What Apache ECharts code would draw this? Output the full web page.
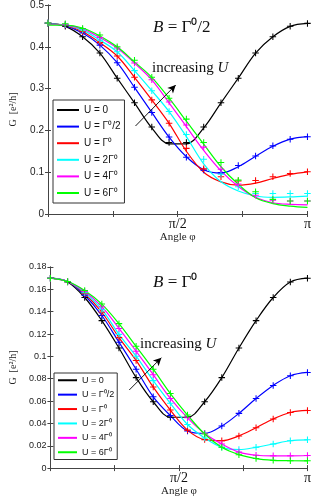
<!DOCTYPE html>
<html><head><meta charset="utf-8">
<script src="https://cdn.jsdelivr.net/npm/echarts@6/dist/echarts.min.js"></script>
<style>html,body{margin:0;padding:0;background:#fff}#c{width:314px;height:498px}</style>
</head><body><div id="c"></div>
<script>
// Angle in degrees (0 .. 180 = pi)
const angles = [0,12,24,36,48,60,72,84,96,108,120,132,144,156,168,180];
const names = ['U = 0','U = Γ⁰/2','U = Γ⁰','U = 2Γ⁰','U = 4Γ⁰','U = 6Γ⁰'];
const colors = ['#000000','#0000ff','#ff0000','#00ffff','#ff00ff','#00ff00'];
const xTickLabels = {90:'π/2', 180:'π'};

// ---- Top panel: B = Γ0/2 (lines = theory, markers = numerics)
const topLineU0   = [0.456,0.449,0.424,0.385,0.325,0.266,0.206,0.168,0.168,0.206,0.266,0.325,0.385,0.424,0.449,0.456];
const topLineU05  = [0.455,0.450,0.433,0.404,0.362,0.303,0.243,0.184,0.137,0.106,0.098,0.113,0.138,0.162,0.179,0.185];
const topLineU1   = [0.455,0.451,0.436,0.410,0.378,0.327,0.273,0.217,0.150,0.100,0.077,0.069,0.074,0.085,0.095,0.101];
const topLineU2   = [0.455,0.452,0.440,0.416,0.388,0.343,0.295,0.245,0.185,0.120,0.077,0.055,0.043,0.040,0.041,0.043];
const topLineU4   = [0.454,0.452,0.443,0.422,0.397,0.361,0.321,0.266,0.209,0.152,0.103,0.066,0.040,0.027,0.023,0.022];
const topLineU6   = [0.452,0.452,0.445,0.426,0.400,0.364,0.327,0.277,0.222,0.167,0.113,0.071,0.039,0.025,0.019,0.016];

const topMarkU0   = [0.456,0.449,0.424,0.385,0.325,0.266,0.208,0.171,0.171,0.208,0.266,0.325,0.385,0.424,0.449,0.456];
const topMarkU05  = [0.457,0.452,0.433,0.404,0.362,0.303,0.243,0.184,0.136,0.105,0.099,0.116,0.139,0.163,0.179,0.185];
const topMarkU1   = [0.457,0.452,0.436,0.410,0.378,0.327,0.273,0.217,0.157,0.108,0.089,0.079,0.080,0.089,0.097,0.101];
const topMarkU2   = [0.457,0.453,0.440,0.416,0.388,0.343,0.295,0.245,0.190,0.131,0.095,0.065,0.049,0.049,0.049,0.049];
const topMarkU4   = [0.457,0.454,0.443,0.422,0.397,0.361,0.321,0.268,0.213,0.160,0.107,0.072,0.045,0.033,0.031,0.031];
const topMarkU6   = [0.457,0.455,0.444,0.428,0.400,0.368,0.327,0.277,0.227,0.171,0.123,0.081,0.053,0.035,0.031,0.031];

// ---- Bottom panel: B = Γ0
const botU0  = [0.170,0.1666,0.1527,0.132,0.1075,0.081,0.0594,0.0455,0.0455,0.0594,0.081,0.1075,0.132,0.1527,0.1666,0.170];
const botU05 = [0.170,0.167,0.1547,0.1366,0.1127,0.0885,0.0638,0.047,0.0332,0.031,0.0376,0.049,0.0623,0.074,0.0827,0.0856];
const botU1  = [0.170,0.167,0.156,0.1395,0.1168,0.0964,0.0725,0.052,0.034,0.0255,0.0245,0.0288,0.0361,0.044,0.0498,0.0516];
const botU2  = [0.170,0.167,0.157,0.142,0.1197,0.1002,0.0783,0.058,0.039,0.027,0.0186,0.0166,0.0186,0.0216,0.0245,0.0253];
const botU4  = [0.170,0.167,0.158,0.1445,0.125,0.1046,0.0836,0.0623,0.045,0.031,0.0216,0.0143,0.0115,0.011,0.011,0.0113];
const botU6  = [0.170,0.167,0.159,0.1468,0.1293,0.109,0.0885,0.0667,0.0475,0.0305,0.0186,0.012,0.0085,0.007,0.0066,0.0065];

const topLines = [topLineU0,topLineU05,topLineU1,topLineU2,topLineU4,topLineU6];
const topMarks = [topMarkU0,topMarkU05,topMarkU1,topMarkU2,topMarkU4,topMarkU6];
const botLines = [botU0,botU05,botU1,botU2,botU4,botU6];

// annotation arrows (data coords: [angle deg, G])
const topArrow = [[60.7,0.2105],[88.6,0.3086]];
const botArrow = [[55.2,0.0699],[77.7,0.0988]];

const plusPath = 'path://M4.2,0H5.8V4.2H10V5.8H5.8V10H4.2V5.8H0V4.2H4.2Z';
const zip = v => angles.map((a,i)=>[a,v[i]]);

const chart = echarts.init(document.getElementById('c'), null, {renderer:'canvas'});

const axisColor = '#444';
function xAxes(gi, nameGap){
  return [{
    type:'value', gridIndex:gi, min:0, max:180, interval:45, position:'bottom',
    axisLine:{show:true, lineStyle:{color:axisColor, width:1}},
    axisTick:{show:true, inside:true, length:3, lineStyle:{color:axisColor}},
    splitLine:{show:false},
    axisLabel:{show:true, margin:3, color:'#111', fontFamily:'Liberation Serif', fontSize:14,
      formatter: v => xTickLabels[v] || ''},
    name:'Angle φ', nameLocation:'middle', nameGap:nameGap,
    nameTextStyle:{fontFamily:'Liberation Serif', fontSize:11, color:'#222'}
  },{
    type:'value', gridIndex:gi, min:0, max:180, interval:45, position:'top',
    axisLine:{show:true, lineStyle:{color:axisColor, width:1}},
    axisTick:{show:true, inside:true, length:3, lineStyle:{color:axisColor}},
    splitLine:{show:false}, axisLabel:{show:false}
  }];
}
function yAxes(gi, max, interval, fs){
  return [{
    type:'value', gridIndex:gi, min:0, max:max, interval:interval, position:'left',
    axisLine:{show:true, lineStyle:{color:axisColor, width:1}},
    axisTick:{show:true, inside:true, length:3, lineStyle:{color:axisColor}},
    splitLine:{show:false},
    axisLabel:{margin:4, color:'#222', fontFamily:'Liberation Sans', fontSize:fs},
    name:'G  [e²/h]', nameLocation:'middle', nameRotate:90, nameGap:30,
    nameTextStyle:{fontFamily:'Liberation Serif', fontSize:10, color:'#222'}
  },{
    type:'value', gridIndex:gi, min:0, max:max, interval:interval, position:'right',
    axisLine:{show:true, lineStyle:{color:axisColor, width:1}},
    axisTick:{show:true, inside:true, length:3, lineStyle:{color:axisColor}},
    splitLine:{show:false}, axisLabel:{show:false}
  }];
}

const series = [];
function addPanel(gi, lines, marks, arrow){
  const xi = gi*2, yi = gi*2;
  lines.forEach((vals, s) => {
    const ser = {
      type:'line', name:names[s], xAxisIndex:xi, yAxisIndex:yi,
      data: zip(vals), smooth:0.35, symbol:'none',
      lineStyle:{color:colors[s], width:1.2}, itemStyle:{color:colors[s]},
      z: 2
    };
    if (s === 0) {
      ser.markLine = {
        silent:true, symbol:['none','arrow'], symbolSize:[6,8], animation:false,
        label:{show:false}, lineStyle:{color:'#000', width:0.9, type:'solid'},
        data:[[{coord:arrow[0]},{coord:arrow[1]}]]
      };
    }
    series.push(ser);
  });
  marks.forEach((vals, s) => {
    series.push({
      type:'scatter', name:names[s], xAxisIndex:xi, yAxisIndex:yi,
      data: zip(vals), symbol:plusPath, symbolSize:6.5,
      itemStyle:{color:colors[s], opacity:1}, z:3
    });
  });
}
addPanel(0, topLines, topMarks, topArrow);
addPanel(1, botLines, botLines, botArrow);

const legendBase = {
  orient:'vertical', icon:'rect', selectedMode:false,
  backgroundColor:'#fff', borderColor:'#333', borderWidth:1, borderRadius:0,
  data:names
};

chart.setOption({
  animation:false,
  backgroundColor:'#fff',
  grid:[
    {left:44, top:5, width:264, height:209, show:false},
    {left:44, top:267, width:264, height:206, show:false}
  ],
  xAxis:[...xAxes(0, 14), ...xAxes(1, 11)],
  yAxis:[...yAxes(0, 0.5, 0.1, 10), ...yAxes(1, 0.18, 0.02, 9)],
  legend:[
    Object.assign({}, legendBase, {left:53, top:100, padding:[4,4,4,4], itemWidth:22, itemHeight:2, itemGap:4.6,
      textStyle:{fontFamily:'Liberation Sans', fontSize:10, lineHeight:12, color:'#111'}}),
    Object.assign({}, legendBase, {left:54, top:373, padding:[2,3,2,4], itemWidth:19, itemHeight:2, itemGap:3.9,
      textStyle:{fontFamily:'Liberation Sans', fontSize:9, lineHeight:10.5, color:'#111'}})
  ],
  graphic:[
    {type:'text', left:153, top:19, silent:true, style:{
      text:'{i|B}{n| = Γ⁰/2}', rich:{
        i:{fontFamily:'Liberation Serif', fontStyle:'italic', fontSize:17, fill:'#111'},
        n:{fontFamily:'Liberation Serif', fontSize:17, fill:'#111'}}}},
    {type:'text', left:153, top:274, silent:true, style:{
      text:'{i|B}{n| = Γ⁰}', rich:{
        i:{fontFamily:'Liberation Serif', fontStyle:'italic', fontSize:17, fill:'#111'},
        n:{fontFamily:'Liberation Serif', fontSize:17, fill:'#111'}}}},
    {type:'text', left:152, top:61, silent:true, style:{
      text:'{n|increasing }{i|U}', rich:{
        n:{fontFamily:'Liberation Serif', fontSize:15, fill:'#111'},
        i:{fontFamily:'Liberation Serif', fontStyle:'italic', fontSize:15, fill:'#111'}}}},
    {type:'text', left:140, top:337, silent:true, style:{
      text:'{n|increasing }{i|U}', rich:{
        n:{fontFamily:'Liberation Serif', fontSize:15, fill:'#111'},
        i:{fontFamily:'Liberation Serif', fontStyle:'italic', fontSize:15, fill:'#111'}}}}
  ],
  series: series
});
</script>
</body></html>
